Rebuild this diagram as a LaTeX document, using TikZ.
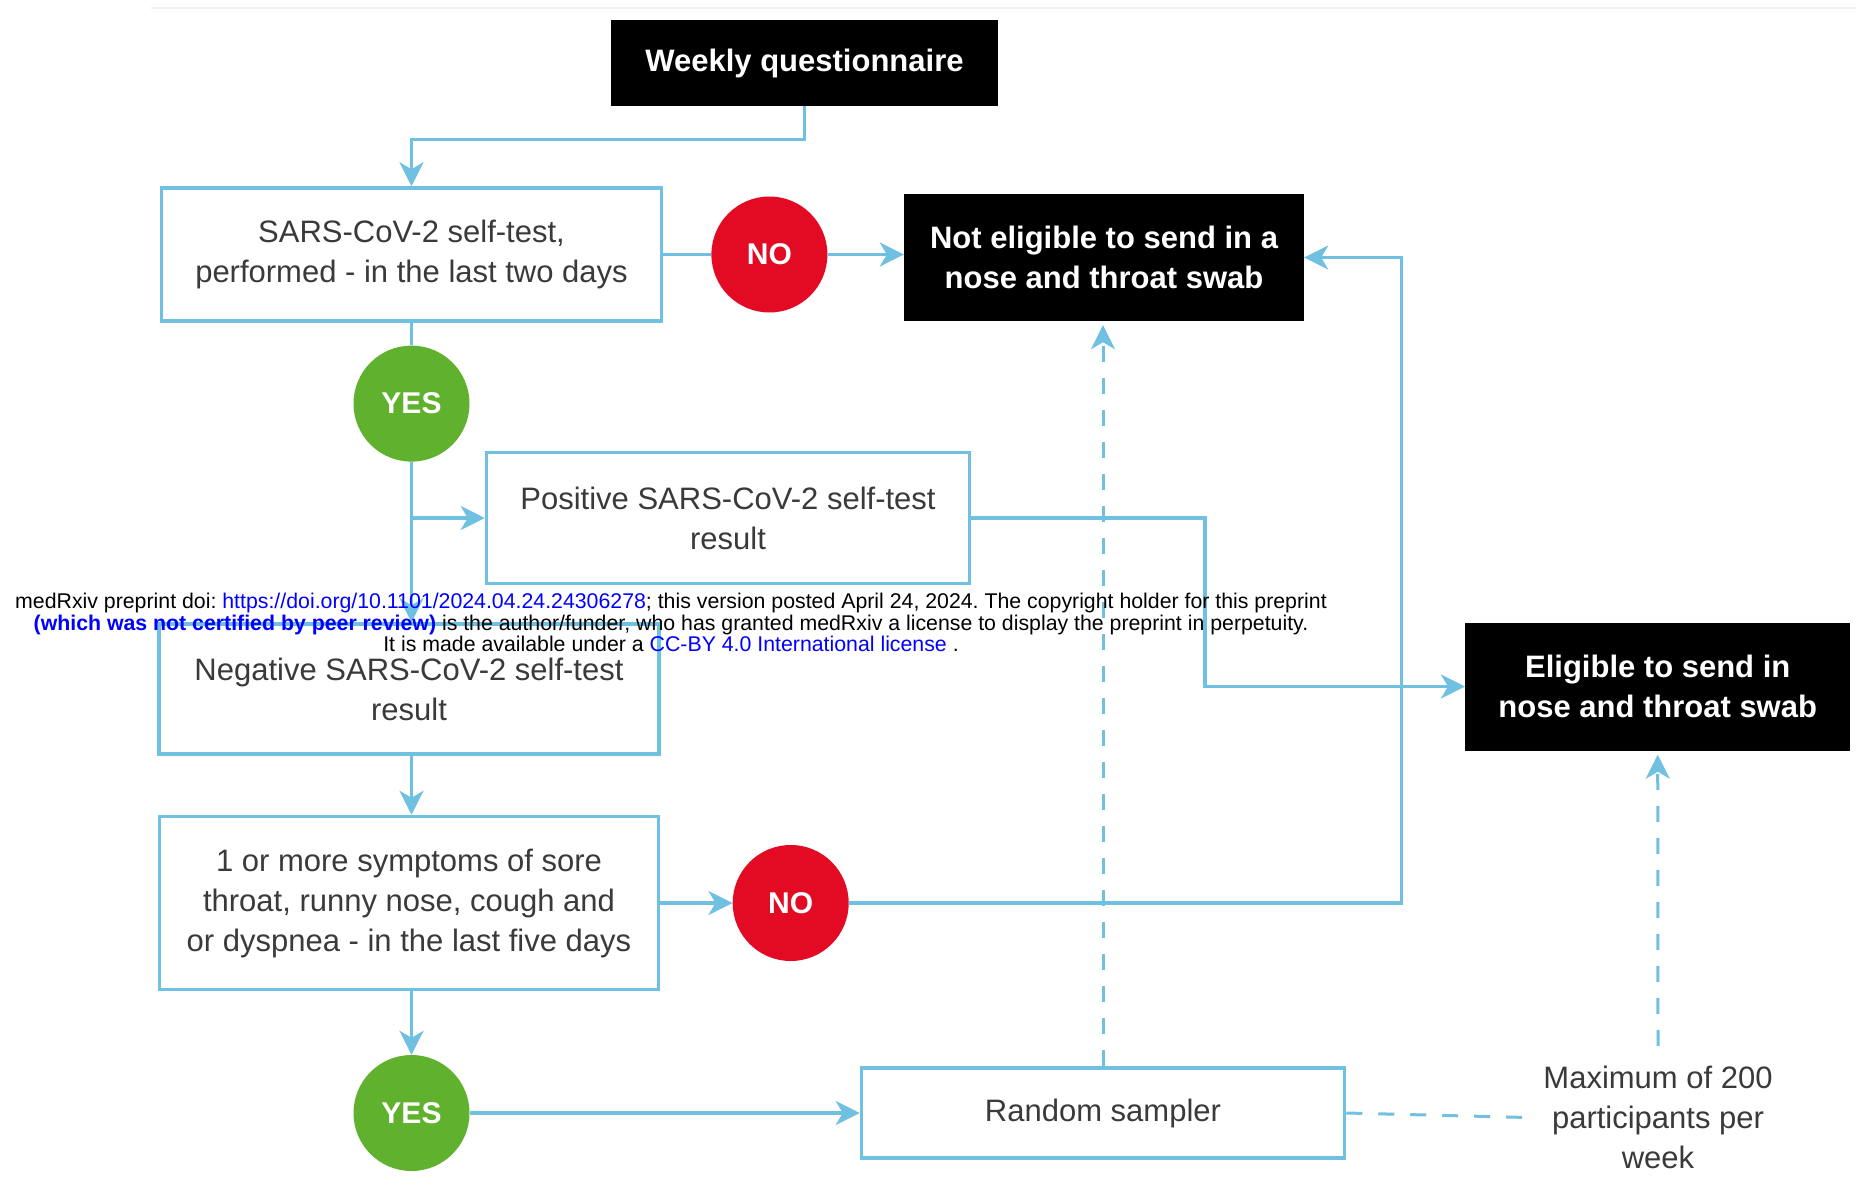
\documentclass[tikz,border=0pt]{standalone}
\usepackage{fontspec}
\setmainfont{Liberation Sans}
\usetikzlibrary{arrows.meta,calc}
\definecolor{lb}{RGB}{112,192,226}
\definecolor{redc}{RGB}{227,10,35}
\definecolor{greenc}{RGB}{96,178,46}
\definecolor{txtgray}{RGB}{58,58,58}
\definecolor{linkblue}{RGB}{0,0,255}
\tikzset{
  conn/.style={draw=lb, line width=3.5pt},
  arr/.style={-{Stealth[length=24pt,width=24pt,inset=7pt]}},
  dconn/.style={draw=lb, line width=3pt, dash pattern=on 16pt off 16pt},
  wbox/.style={rectangle, draw=lb, line width=3.5pt, fill=white, text=txtgray, align=center, inner sep=0pt, font=\fontsize{31}{40}\selectfont},
  bbox/.style={rectangle, fill=black, text=white, align=center, inner sep=0pt, font=\fontsize{31}{40}\selectfont\bfseries},
  rcirc/.style={circle, fill=redc, text=white, minimum size=116pt, inner sep=0pt, font=\fontsize{30}{36}\selectfont\bfseries},
  gcirc/.style={circle, fill=greenc, text=white, minimum size=116pt, inner sep=0pt, font=\fontsize{30}{36}\selectfont\bfseries},
  plain/.style={text=txtgray, align=center, inner sep=20pt, font=\fontsize{31}{40}\selectfont},
  wmark/.style={text=black, align=center, inner sep=0pt, font=\fontsize{21.3}{21.3}\selectfont\frenchspacing}
}
\begin{document}
\begin{tikzpicture}[x=1pt,y=-1pt]
\useasboundingbox (0,0) rectangle (1856,1188);
\fill[white] (0,0) rectangle (1856,1188);
\draw[gray!12, line width=2pt] (151,8) -- (1856,8);

% nodes
\node[bbox, minimum width=387pt, minimum height=86pt] (wq) at (804.5,63) {Weekly questionnaire};
\node[wbox, minimum width=500pt, minimum height=133pt] (b1) at (411.5,254.5) {SARS-CoV-2 self-test,\\performed - in the last two days};
\node[rcirc] (no1) at (769.4,254.5) {NO};
\node[bbox, minimum width=400pt, minimum height=127pt] (ne) at (1104,257.5) {Not eligible to send in a\\nose and throat swab};
\node[gcirc] (yes1) at (411.5,403.6) {YES};
\node[wbox, minimum width=483pt, minimum height=131pt] (pos) at (728,518) {Positive SARS-CoV-2 self-test\\result};
\node[wbox, minimum width=500pt, minimum height=130pt] (neg) at (409,689) {Negative SARS-CoV-2 self-test\\result};
\node[wbox, minimum width=499pt, minimum height=173pt] (sym) at (409,903) {1 or more symptoms of sore\\throat, runny nose, cough and\\or dyspnea - in the last five days};
\node[rcirc] (no2) at (790.7,903) {NO};
\node[gcirc] (yes2) at (411.5,1113) {YES};
\node[wbox, minimum width=483pt, minimum height=90pt] (rs) at (1103,1113) {Random sampler};
\node[bbox, minimum width=385pt, minimum height=128pt] (el) at (1657.7,686.5) {Eligible to send in\\nose and throat swab};
\node[plain] (mx) at (1658,1117.4) {Maximum of 200\\participants per\\week};

\coordinate (bendP) at (1205,0);
\coordinate (bendR) at (1401.5,0);

% connectors
\draw[conn,arr] (wq.south) -- ++(0,33.5) -| (b1.north);
\draw[conn] (b1.east) -- (no1.west);
\draw[conn,arr] (no1.east) -- (no1.east -| ne.west);
\draw[conn] (b1.south) -- (yes1.north);
\draw[conn,arr] (yes1.south) -- (yes1.south |- neg.north);
\draw[conn,arr] (yes1.south |- pos.west) -- (pos.west);
\draw[conn,arr] (pos.east) -| (bendP |- el.west) -- (el.west);
\draw[conn,arr] (yes1.south |- neg.south) -- (yes1.south |- sym.north);
\draw[conn,arr] (sym.east) -- (no2.west);
\draw[conn,arr] (no2.east) -| (bendR |- ne.east) -- (ne.east);
\draw[conn,arr] (yes2.north |- sym.south) -- (yes2.north);
\draw[conn,arr] (yes2.east) -- (rs.west);
\draw[dconn,arr,shorten >=4pt] (rs.north) -- (rs.north |- ne.south);
\draw[dconn] (rs.east) -- (mx.west);
\draw[dconn,arr,shorten >=4pt] (mx.north) -- (el.south);

% watermark
\node[wmark] (wm) at (671,622.5) {medRxiv preprint doi: \textcolor{linkblue}{https://doi.org/10.1101/2024.04.24.24306278}; this version posted April 24, 2024. The copyright holder for this preprint\\
\textcolor{linkblue}{\bfseries (which was not certified by peer review)} is the author/funder, who has granted medRxiv a license to display the preprint in perpetuity.\\
It is made available under a \textcolor{linkblue}{CC-BY 4.0 International license} .};
\end{tikzpicture}
\end{document}
